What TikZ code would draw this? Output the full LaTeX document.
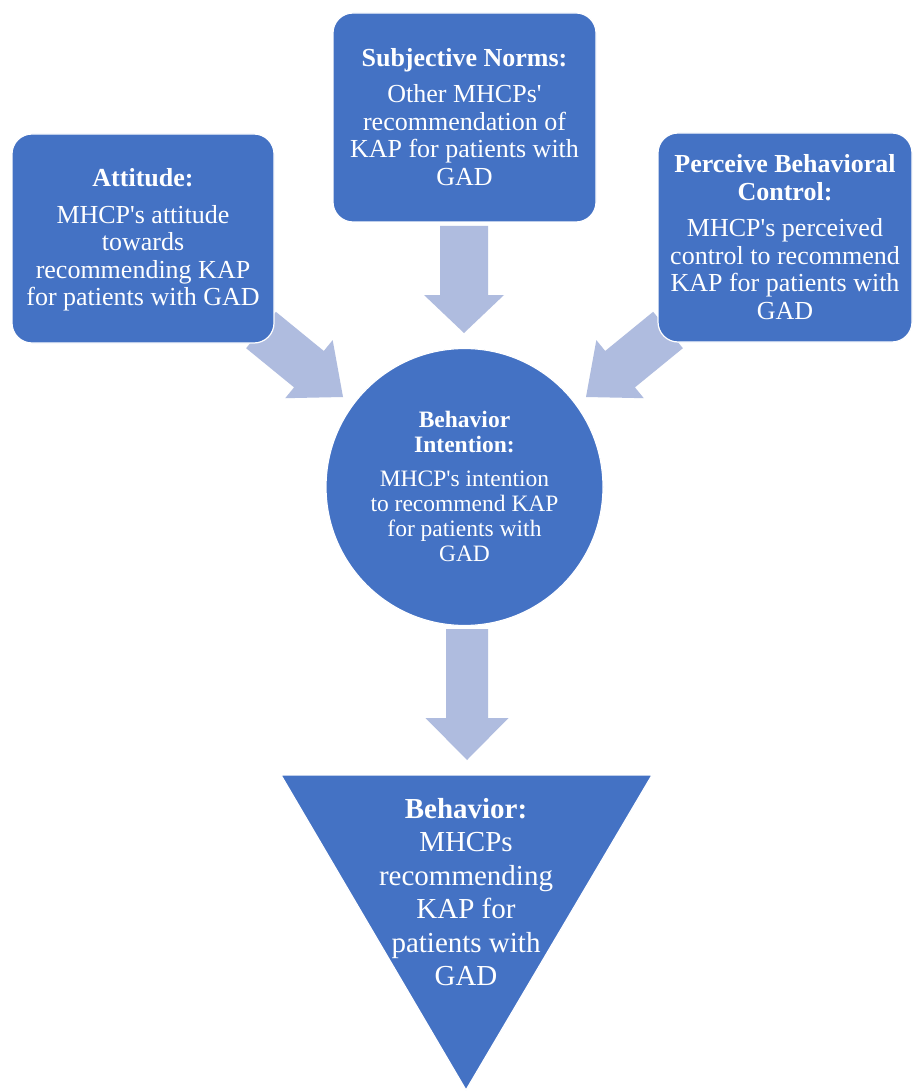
\documentclass[tikz,border=0pt]{standalone}
\usepackage{fontspec}
\setmainfont{Liberation Serif}
\usetikzlibrary{calc}
\definecolor{boxblue}{HTML}{4472C4}
\definecolor{arrowblue}{HTML}{AFBCDF}
\newcommand{\ap}{\textquotesingle}
\tikzset{
  blk/.style={fill=boxblue, draw=white, line width=1.2pt},
  rbox/.style={blk, rounded corners=20pt},
  boxtext/.style={text=white, align=center, font=\fontsize{26}{27.5}\selectfont},
  circtext/.style={text=white, align=center, font=\fontsize{23.5}{25}\selectfont},
  tritext/.style={text=white, align=center, font=\fontsize{29}{33.5}\selectfont},
  fatarrow/.style={fill=arrowblue, draw=none}
}
% #1 tail, #2 tip, #3 half shaft width, #4 half head width, #5 head length
\newcommand{\blockarrow}[5]{%
  \path (#2) coordinate (ba-T);
  \path ($(#2)!#5!(#1)$) coordinate (ba-H);
  \fill[fatarrow] ($(#1)!#3!90:(#2)$) -- ($(ba-H)!#3!90:(ba-T)$) -- ($(ba-H)!#4!90:(ba-T)$)
    -- (ba-T) -- ($(ba-H)!#4!-90:(ba-T)$) -- ($(ba-H)!#3!-90:(ba-T)$) -- ($(#1)!#3!-90:(#2)$) -- cycle;}
\begin{document}
\begin{tikzpicture}[x=1pt,y=-1pt]
\useasboundingbox (0,0) rectangle (913,1091);
\fill[white] (0,0) rectangle (913,1091);
% connector end points
\coordinate (attTail) at (261,330);
\coordinate (attTip) at (343,397);
\coordinate (pbcTail) at (668,330);
\coordinate (pbcTip) at (586,397);
\coordinate (snTail) at (464,226);
\coordinate (snTip) at (464,333);
\coordinate (biTail) at (467,629);
\coordinate (biTip) at (467,760);
% arrows
\blockarrow{attTail}{attTip}{23.5pt}{37.5pt}{44pt}
\blockarrow{pbcTail}{pbcTip}{23.5pt}{37.5pt}{44pt}
\blockarrow{snTail}{snTip}{24pt}{40pt}{38pt}
\blockarrow{biTail}{biTip}{21pt}{41.5pt}{42pt}
% boxes
\draw[rbox] (12,134) rectangle (274,343);
\node[boxtext] (att) at (143,240) {\textbf{Attitude:}\\[9pt]MHCP\ap s attitude\\towards\\recommending KAP\\for patients with GAD};
\draw[rbox] (333,13) rectangle (596,222);
\node[boxtext] (sn) at (464.5,117) {\textbf{Subjective Norms:}\\[9pt]Other MHCPs\ap\\recommendation of\\KAP for patients with\\GAD};
\draw[rbox] (658,133) rectangle (912,342);
\node[boxtext] (pbc) at (785,237) {\textbf{Perceive Behavioral}\\\textbf{Control:}\\[9pt]MHCP\ap s perceived\\control to recommend\\KAP for patients with\\GAD};
% circle
\draw[blk] (464.5,487) circle[radius=138.5];
\node[circtext] (bi) at (464.5,486) {\textbf{Behavior}\\\textbf{Intention:}\\[9pt]MHCP\ap s intention\\to recommend KAP\\for patients with\\GAD};
% triangle
\draw[blk] (281,775) -- (652,775) -- (466,1090) -- cycle;
\node[tritext] (beh) at (466,892) {\textbf{Behavior:}\\MHCPs\\recommending\\KAP for\\patients with\\GAD};
\end{tikzpicture}
\end{document}
